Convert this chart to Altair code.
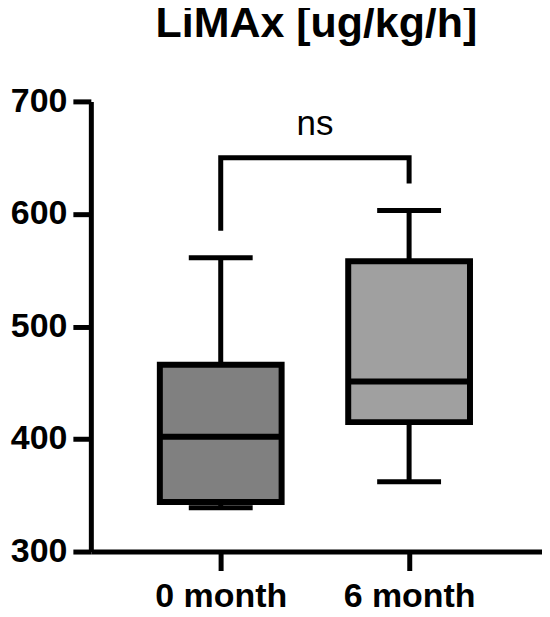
import altair as alt
import pandas as pd

# ---- data ----
groups = ["0 month", "6 month"]
group_pos = [0, 1]
whisker_min = [339, 362]
q1 = [344, 415]
median = [402, 451]
q3 = [466, 558]
whisker_max = [561, 603]
fills = ["#808080", "#a0a0a0"]

bracket_x = [0, 0, 1, 1]
bracket_y = [585, 650, 650, 627]
bracket_order = [0, 1, 2, 3]
sig_label = ["ns"]
sig_x = [0.5]
sig_y = [670]

y_ticks = [300, 400, 500, 600, 700]

FONT = "Liberation Sans"

box_df = pd.DataFrame({
    "group": groups, "pos": group_pos, "min": whisker_min, "q1": q1,
    "median": median, "q3": q3, "max": whisker_max, "fill": fills,
})
cap_df = pd.DataFrame({
    "pos": group_pos * 2,
    "val": whisker_min + whisker_max,
})
bracket_df = pd.DataFrame({"x": bracket_x, "y": bracket_y, "o": bracket_order})
sig_df = pd.DataFrame({"label": sig_label, "x": sig_x, "y": sig_y})

xscale = alt.Scale(domain=[-0.663, 1.679], nice=False, zero=False)
yscale = alt.Scale(domain=[300, 700], nice=False, zero=False)

label_expr = "datum.value == 0 ? '%s' : '%s'" % (groups[0], groups[1])

xax = alt.Axis(values=group_pos, labelExpr=label_expr, title=None, grid=False,
               labelFont=FONT, labelFontSize=34, labelFontWeight="bold",
               labelColor="black", tickColor="black", tickSize=19, tickWidth=5,
               domainColor="black", domainWidth=5, labelPadding=9)
yax = alt.Axis(values=y_ticks, title=None, grid=False,
               labelFont=FONT, labelFontSize=34, labelFontWeight="bold",
               labelColor="black", tickColor="black", tickSize=18, tickWidth=5,
               domainColor="black", domainWidth=5, labelPadding=6)

base = alt.Chart(box_df)

whiskers = base.mark_rule(color="black", strokeWidth=5).encode(
    x=alt.X("pos:Q", scale=xscale, axis=xax),
    y=alt.Y("min:Q", scale=yscale, axis=yax),
    y2="max:Q",
)

boxes = base.mark_bar(size=122, stroke="black", strokeWidth=6, opacity=1).encode(
    x=alt.X("pos:Q", scale=xscale),
    y=alt.Y("q1:Q", scale=yscale),
    y2="q3:Q",
    color=alt.Color("fill:N", scale=None),
)

medians = base.mark_tick(color="black", size=122, thickness=6, orient="horizontal", opacity=1).encode(
    x=alt.X("pos:Q", scale=xscale),
    y=alt.Y("median:Q", scale=yscale),
)

caps = alt.Chart(cap_df).mark_tick(color="black", size=64, thickness=5, orient="horizontal", opacity=1).encode(
    x=alt.X("pos:Q", scale=xscale),
    y=alt.Y("val:Q", scale=yscale),
)

bracket = alt.Chart(bracket_df).mark_line(color="black", strokeWidth=5, strokeCap="butt", strokeJoin="miter").encode(
    x=alt.X("x:Q", scale=xscale),
    y=alt.Y("y:Q", scale=yscale),
    order="o:Q",
)

sig = alt.Chart(sig_df).mark_text(font=FONT, fontSize=35, color="black",
                                  align="center", baseline="alphabetic").encode(
    x=alt.X("x:Q", scale=xscale),
    y=alt.Y("y:Q", scale=yscale),
    text="label:N",
)

chart = alt.layer(whiskers, boxes, medians, caps, bracket, sig).properties(
    width=452,
    height=451,
    title=alt.TitleParams("LiMAx [ug/kg/h]", font=FONT, fontSize=43, fontWeight="bold",
                          color="black", anchor="middle", baseline="alphabetic", offset=5),
    autosize=alt.AutoSizeParams(type="none"),
    padding={"left": 83, "top": 93, "right": 0, "bottom": 57},
).configure_view(stroke=None)

chart.save("out.html", embed_options={"renderer": "svg", "actions": False})
